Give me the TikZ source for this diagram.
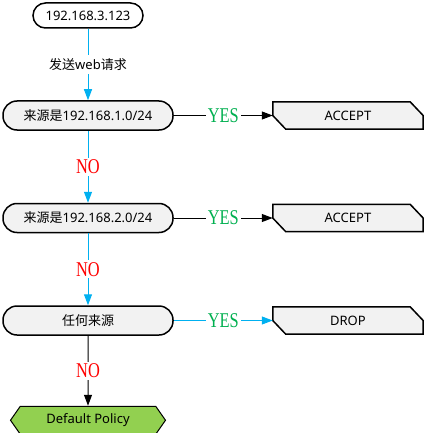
\documentclass[tikz,border=0pt]{standalone}
\usepackage{fontspec}
\setmainfont{Noto Sans}
\newfontfamily\cjk{Noto Sans CJK SC}
\newfontfamily\yesno[FakeStretch=0.78]{Liberation Serif}
\usetikzlibrary{positioning,arrows.meta,shapes.symbols,backgrounds}
\definecolor{flowblue}{HTML}{00B0F0}
\definecolor{yesgreen}{HTML}{00B050}
\definecolor{policygreen}{HTML}{92D050}
\tikzset{
	>={Triangle[width=8pt,length=11pt]}, % filled arrow heads
	node distance=72pt and 99pt, % vertical and horizontal gaps between the boxes
	every node/.style={font=\fontsize{13}{15}\selectfont}, % text size of all nodes
}
\begin{document}
\begin{tikzpicture}[x=1pt,y=-1pt,
	rulenode/.style={rectangle, draw=black, fill=black!5, line width=1.5pt, rounded corners=14pt, minimum width=170pt, minimum height=29pt},
	hostnode/.style={rectangle, draw=black, fill=white, line width=1.5pt, rounded corners=12.5pt, minimum width=110pt, minimum height=25pt},
	targetnode/.style={rectangle, inner sep=0pt, minimum width=150pt, minimum height=27pt},
	policynode/.style={signal, signal to=west and east, signal pointer angle=110, draw=black, fill=policygreen, line width=1pt, minimum width=155pt, minimum height=28pt},
	blueline/.style={->, draw=flowblue, line width=1pt},
	blackline/.style={->, draw=black, line width=1pt},
	yeslabel/.style={fill=white, inner sep=2pt, text=yesgreen, font=\yesno\fontsize{21}{21}\selectfont},
	nolabel/.style={fill=white, inner sep=2pt, text=red, font=\yesno\fontsize{21}{21}\selectfont},
	]
	\useasboundingbox (0,0) rectangle (425,433);
	%Nodes
	\node[hostnode] (host) at (88,15.5) {192.168.3.123};
	\node[rulenode] (rule1) at (88,115.5) {{\cjk 来源是}192.168.1.0/24};
	\node[rulenode] (rule2) [below=of rule1] {{\cjk 来源是}192.168.2.0/24};
	\node[rulenode] (rule3) [below=of rule2] {\cjk 任何来源};
	\node[policynode] (policy) [below=70pt of rule3] {Default Policy};

	\node[targetnode] (accept1) [right=of rule1] {ACCEPT};
	\node[targetnode] (accept2) [right=of rule2] {ACCEPT};
	\node[targetnode] (drop) [right=of rule3] {DROP};

	\begin{scope}[on background layer]
	\foreach \t in {accept1,accept2,drop}
		\draw[line width=1.5pt, fill=black!5] (\t.north west) -- ([xshift=-13pt]\t.north east) -- (\t.east) -- (\t.south east) -- ([xshift=13pt]\t.south west) -- (\t.west) -- cycle;
	\end{scope}

	%Lines
	\draw[blueline] (host) -- node[fill=white, inner sep=3pt]{{\cjk 发送}web{\cjk 请求}} (rule1);
	\draw[blackline] (rule1) -- node[yeslabel]{YES} (accept1);
	\draw[blueline] (rule1) -- node[nolabel]{NO} (rule2);
	\draw[blackline] (rule2) -- node[yeslabel]{YES} (accept2);
	\draw[blueline] (rule2) -- node[nolabel]{NO} (rule3);
	\draw[blueline] (rule3) -- node[yeslabel]{YES} (drop);
	\draw[blackline] (rule3) -- node[nolabel]{NO} (policy);
\end{tikzpicture}
\end{document}
